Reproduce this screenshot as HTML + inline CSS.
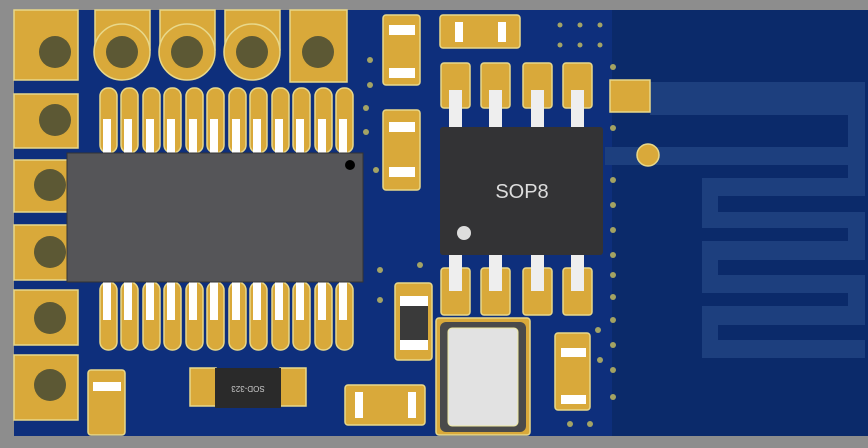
<!DOCTYPE html><html><head><style>body{margin:0;background:#8c8c8c}svg{display:block}</style></head><body>
<svg width="868" height="448" viewBox="0 0 868 448" xmlns="http://www.w3.org/2000/svg" font-family="Liberation Sans, sans-serif">
<rect width="868" height="448" fill="#8d8d8d"/>
<rect x="14" y="10" width="854" height="426" fill="#0e2f7c"/>
<rect x="612" y="10" width="256" height="426" fill="#0b2a6a"/>
<g fill="#1d3f7e">
<rect x="650" y="82" width="215" height="33"/>
<rect x="848" y="82" width="17" height="96"/>
<rect x="605" y="147" width="260" height="18"/>
<rect x="702" y="178" width="163" height="180"/>
</g>
<g fill="#0b2a6a">
<rect x="718" y="196" width="150" height="16"/>
<rect x="702" y="228" width="146" height="13"/>
<rect x="718" y="260" width="150" height="15"/>
<rect x="702" y="293" width="146" height="13"/>
<rect x="718" y="325" width="150" height="15"/>
</g>
<g fill="#c9c060" opacity="0.8">
<circle cx="370" cy="60" r="3"/><circle cx="370" cy="85" r="3"/><circle cx="366" cy="108" r="3"/><circle cx="366" cy="132" r="3"/><circle cx="376" cy="170" r="3"/><circle cx="380" cy="270" r="3"/><circle cx="380" cy="300" r="3"/><circle cx="420" cy="265" r="3"/>
<circle cx="613" cy="67" r="3"/><circle cx="613" cy="128" r="3"/><circle cx="613" cy="180" r="3"/><circle cx="613" cy="205" r="3"/>
<circle cx="613" cy="230" r="3"/><circle cx="613" cy="255" r="3"/><circle cx="613" cy="275" r="3"/><circle cx="613" cy="297" r="3"/><circle cx="613" cy="320" r="3"/><circle cx="613" cy="345" r="3"/><circle cx="613" cy="370" r="3"/><circle cx="613" cy="397" r="3"/><circle cx="598" cy="330" r="3"/><circle cx="600" cy="360" r="3"/><circle cx="570" cy="424" r="3"/><circle cx="590" cy="424" r="3"/>
<circle cx="560" cy="25" r="2.5"/><circle cx="580" cy="25" r="2.5"/><circle cx="600" cy="25" r="2.5"/><circle cx="560" cy="45" r="2.5"/><circle cx="580" cy="45" r="2.5"/><circle cx="600" cy="45" r="2.5"/>
</g>
<g fill="#d9a93a" stroke="#e8d88a" stroke-width="1.5">
<rect x="14" y="10" width="64" height="70"/><rect x="14" y="94" width="64" height="54"/><rect x="14" y="160" width="64" height="52"/><rect x="14" y="225" width="64" height="55"/><rect x="14" y="290" width="64" height="55"/><rect x="14" y="355" width="64" height="65"/>
<rect x="95" y="10" width="55" height="40"/><circle cx="122" cy="52" r="28"/>
<rect x="160" y="10" width="55" height="40"/><circle cx="187" cy="52" r="28"/>
<rect x="225" y="10" width="55" height="40"/><circle cx="252" cy="52" r="28"/>
<rect x="290" y="10" width="57" height="72"/>
</g>
<g fill="#5c5834"><circle cx="55" cy="52" r="16"/><circle cx="55" cy="120" r="16"/><circle cx="50" cy="185" r="16"/><circle cx="50" cy="252" r="16"/><circle cx="50" cy="318" r="16"/><circle cx="50" cy="385" r="16"/><circle cx="122" cy="52" r="16"/><circle cx="187" cy="52" r="16"/><circle cx="252" cy="52" r="16"/><circle cx="318" cy="52" r="16"/></g>
<g fill="#d9a93a" stroke="#e8d88a" stroke-width="1.5">
<rect x="100" y="88" width="17" height="65" rx="8"/><rect x="121" y="88" width="17" height="65" rx="8"/><rect x="143" y="88" width="17" height="65" rx="8"/><rect x="164" y="88" width="17" height="65" rx="8"/><rect x="186" y="88" width="17" height="65" rx="8"/><rect x="207" y="88" width="17" height="65" rx="8"/><rect x="229" y="88" width="17" height="65" rx="8"/><rect x="250" y="88" width="17" height="65" rx="8"/><rect x="272" y="88" width="17" height="65" rx="8"/><rect x="293" y="88" width="17" height="65" rx="8"/><rect x="315" y="88" width="17" height="65" rx="8"/><rect x="336" y="88" width="17" height="65" rx="8"/>
<rect x="100" y="282" width="17" height="68" rx="8"/><rect x="121" y="282" width="17" height="68" rx="8"/><rect x="143" y="282" width="17" height="68" rx="8"/><rect x="164" y="282" width="17" height="68" rx="8"/><rect x="186" y="282" width="17" height="68" rx="8"/><rect x="207" y="282" width="17" height="68" rx="8"/><rect x="229" y="282" width="17" height="68" rx="8"/><rect x="250" y="282" width="17" height="68" rx="8"/><rect x="272" y="282" width="17" height="68" rx="8"/><rect x="293" y="282" width="17" height="68" rx="8"/><rect x="315" y="282" width="17" height="68" rx="8"/><rect x="336" y="282" width="17" height="68" rx="8"/>
</g>
<g fill="#fff">
<rect x="103" y="119" width="8" height="34"/><rect x="124" y="119" width="8" height="34"/><rect x="146" y="119" width="8" height="34"/><rect x="167" y="119" width="8" height="34"/><rect x="189" y="119" width="8" height="34"/><rect x="210" y="119" width="8" height="34"/><rect x="232" y="119" width="8" height="34"/><rect x="253" y="119" width="8" height="34"/><rect x="275" y="119" width="8" height="34"/><rect x="296" y="119" width="8" height="34"/><rect x="318" y="119" width="8" height="34"/><rect x="339" y="119" width="8" height="34"/>
<rect x="103" y="282" width="8" height="38"/><rect x="124" y="282" width="8" height="38"/><rect x="146" y="282" width="8" height="38"/><rect x="167" y="282" width="8" height="38"/><rect x="189" y="282" width="8" height="38"/><rect x="210" y="282" width="8" height="38"/><rect x="232" y="282" width="8" height="38"/><rect x="253" y="282" width="8" height="38"/><rect x="275" y="282" width="8" height="38"/><rect x="296" y="282" width="8" height="38"/><rect x="318" y="282" width="8" height="38"/><rect x="339" y="282" width="8" height="38"/>
</g>
<rect x="67" y="153" width="296" height="129" fill="#555558" stroke="#333" stroke-width="1"/>
<circle cx="350" cy="165" r="5" fill="#000"/>
<g fill="#d9a93a" stroke="#e8d88a" stroke-width="1.5">
<rect x="441" y="63" width="29" height="45" rx="3"/><rect x="481" y="63" width="29" height="45" rx="3"/><rect x="523" y="63" width="29" height="45" rx="3"/><rect x="563" y="63" width="29" height="45" rx="3"/>
<rect x="441" y="268" width="29" height="47" rx="3"/><rect x="481" y="268" width="29" height="47" rx="3"/><rect x="523" y="268" width="29" height="47" rx="3"/><rect x="563" y="268" width="29" height="47" rx="3"/>
<rect x="610" y="80" width="40" height="32"/>
<circle cx="648" cy="155" r="11"/>
</g>
<g fill="#eee"><rect x="449" y="90" width="13" height="37"/><rect x="489" y="90" width="13" height="37"/><rect x="531" y="90" width="13" height="37"/><rect x="571" y="90" width="13" height="37"/>
<rect x="449" y="255" width="13" height="36"/><rect x="489" y="255" width="13" height="36"/><rect x="531" y="255" width="13" height="36"/><rect x="571" y="255" width="13" height="36"/></g>
<rect x="440" y="127" width="163" height="128" rx="3" fill="#333335"/>
<text x="522" y="198" font-size="20" fill="#ddd" text-anchor="middle">SOP8</text>
<circle cx="464" cy="233" r="7" fill="#ddd"/>
<g fill="#d9a93a" stroke="#e8d88a" stroke-width="1.5">
<rect x="383" y="15" width="37" height="70" rx="3"/><rect x="383" y="110" width="37" height="80" rx="3"/>
<rect x="440" y="15" width="80" height="33" rx="3"/>
<rect x="395" y="283" width="37" height="77" rx="3"/>
<rect x="555" y="333" width="35" height="77" rx="3"/>
<rect x="345" y="385" width="80" height="40" rx="3"/>
<rect x="88" y="370" width="37" height="65" rx="3"/>
<rect x="190" y="368" width="26" height="38"/><rect x="280" y="368" width="26" height="38"/>
<rect x="436" y="318" width="94" height="117" rx="3"/>
</g>
<g fill="#fff"><rect x="389" y="25" width="26" height="10"/><rect x="389" y="68" width="26" height="10"/><rect x="389" y="122" width="26" height="10"/><rect x="389" y="167" width="26" height="10"/>
<rect x="455" y="22" width="8" height="20"/><rect x="498" y="22" width="8" height="20"/>
<rect x="561" y="348" width="25" height="9"/><rect x="561" y="395" width="25" height="9"/>
<rect x="355" y="392" width="8" height="26"/><rect x="408" y="392" width="8" height="26"/>
<rect x="93" y="382" width="28" height="9"/><rect x="400" y="296" width="28" height="10"/><rect x="400" y="340" width="28" height="10"/></g>
<rect x="400" y="306" width="28" height="34" fill="#3a3a3a"/>
<rect x="215" y="368" width="66" height="40" fill="#2a2a2a"/>
<text x="248" y="392" font-size="8" fill="#ccc" text-anchor="middle" transform="rotate(180 248 389)">SOD-323</text>
<rect x="440" y="322" width="86" height="110" rx="6" fill="#4a4a4a"/>
<rect x="448" y="328" width="70" height="98" rx="4" fill="#e2e2e2" stroke="#eee8a0"/>
</svg>
</body></html>
